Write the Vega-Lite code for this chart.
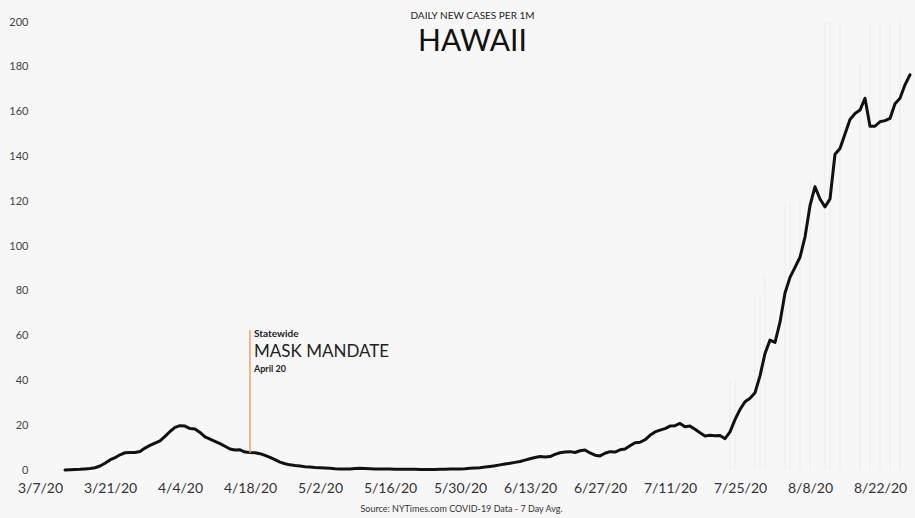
{
  "$schema": "https://vega.github.io/schema/vega-lite/v6.json",
  "width": 885,
  "height": 468,
  "autosize": "none",
  "padding": {"left": 30, "top": 10, "right": 0, "bottom": 40},
  "background": "#f7f7f7",
  "config": {"view": {"stroke": null}, "font": "Lato"},
  "title": {
    "text": "DAILY NEW CASES PER 1M",
    "subtitle": "HAWAII",
    "fontSize": 10,
    "fontWeight": "normal",
    "color": "#222222",
    "subtitleFontSize": 30,
    "subtitleColor": "#111111",
    "subtitleFont": "Lato",
    "subtitlePadding": 6,
    "anchor": "middle",
    "offset": -47
  },
  "datasets": {
    "hawaii": [
      {"date": "2020-03-12", "cases": 0.0}, {"date": "2020-03-13", "cases": 0.1}, {"date": "2020-03-14", "cases": 0.2},
      {"date": "2020-03-15", "cases": 0.3}, {"date": "2020-03-16", "cases": 0.5}, {"date": "2020-03-17", "cases": 0.7},
      {"date": "2020-03-18", "cases": 1.0}, {"date": "2020-03-19", "cases": 1.8}, {"date": "2020-03-20", "cases": 3.0},
      {"date": "2020-03-21", "cases": 4.5}, {"date": "2020-03-22", "cases": 5.5}, {"date": "2020-03-23", "cases": 6.8},
      {"date": "2020-03-24", "cases": 7.7}, {"date": "2020-03-25", "cases": 7.8}, {"date": "2020-03-26", "cases": 7.8},
      {"date": "2020-03-27", "cases": 8.3}, {"date": "2020-03-28", "cases": 9.8}, {"date": "2020-03-29", "cases": 11.0},
      {"date": "2020-03-30", "cases": 12.0}, {"date": "2020-03-31", "cases": 13.0},
      {"date": "2020-04-01", "cases": 15.0}, {"date": "2020-04-02", "cases": 17.2}, {"date": "2020-04-03", "cases": 19.0},
      {"date": "2020-04-04", "cases": 19.8}, {"date": "2020-04-05", "cases": 19.6}, {"date": "2020-04-06", "cases": 18.5},
      {"date": "2020-04-07", "cases": 18.3}, {"date": "2020-04-08", "cases": 16.8}, {"date": "2020-04-09", "cases": 14.8},
      {"date": "2020-04-10", "cases": 13.8}, {"date": "2020-04-11", "cases": 12.8}, {"date": "2020-04-12", "cases": 11.8},
      {"date": "2020-04-13", "cases": 10.6}, {"date": "2020-04-14", "cases": 9.4}, {"date": "2020-04-15", "cases": 8.9},
      {"date": "2020-04-16", "cases": 9.0}, {"date": "2020-04-17", "cases": 8.0}, {"date": "2020-04-18", "cases": 7.8},
      {"date": "2020-04-19", "cases": 7.7}, {"date": "2020-04-20", "cases": 7.3}, {"date": "2020-04-21", "cases": 6.5},
      {"date": "2020-04-22", "cases": 5.6}, {"date": "2020-04-23", "cases": 4.6}, {"date": "2020-04-24", "cases": 3.5},
      {"date": "2020-04-25", "cases": 2.8}, {"date": "2020-04-26", "cases": 2.3}, {"date": "2020-04-27", "cases": 2.0},
      {"date": "2020-04-28", "cases": 1.8}, {"date": "2020-04-29", "cases": 1.5}, {"date": "2020-04-30", "cases": 1.3},
      {"date": "2020-05-01", "cases": 1.1}, {"date": "2020-05-02", "cases": 1.0}, {"date": "2020-05-03", "cases": 0.9},
      {"date": "2020-05-04", "cases": 0.8}, {"date": "2020-05-05", "cases": 0.6}, {"date": "2020-05-06", "cases": 0.5},
      {"date": "2020-05-07", "cases": 0.4}, {"date": "2020-05-08", "cases": 0.5}, {"date": "2020-05-09", "cases": 0.7},
      {"date": "2020-05-10", "cases": 0.8}, {"date": "2020-05-11", "cases": 0.7}, {"date": "2020-05-12", "cases": 0.6},
      {"date": "2020-05-13", "cases": 0.5}, {"date": "2020-05-14", "cases": 0.5}, {"date": "2020-05-15", "cases": 0.4},
      {"date": "2020-05-16", "cases": 0.4}, {"date": "2020-05-17", "cases": 0.3}, {"date": "2020-05-18", "cases": 0.3},
      {"date": "2020-05-19", "cases": 0.3}, {"date": "2020-05-20", "cases": 0.3}, {"date": "2020-05-21", "cases": 0.3},
      {"date": "2020-05-22", "cases": 0.2}, {"date": "2020-05-23", "cases": 0.2}, {"date": "2020-05-24", "cases": 0.2},
      {"date": "2020-05-25", "cases": 0.2}, {"date": "2020-05-26", "cases": 0.3}, {"date": "2020-05-27", "cases": 0.3},
      {"date": "2020-05-28", "cases": 0.4}, {"date": "2020-05-29", "cases": 0.4}, {"date": "2020-05-30", "cases": 0.5},
      {"date": "2020-05-31", "cases": 0.6},
      {"date": "2020-06-01", "cases": 0.8}, {"date": "2020-06-02", "cases": 0.9}, {"date": "2020-06-03", "cases": 1.0},
      {"date": "2020-06-04", "cases": 1.3}, {"date": "2020-06-05", "cases": 1.6}, {"date": "2020-06-06", "cases": 1.9},
      {"date": "2020-06-07", "cases": 2.3}, {"date": "2020-06-08", "cases": 2.7}, {"date": "2020-06-09", "cases": 3.0},
      {"date": "2020-06-10", "cases": 3.4}, {"date": "2020-06-11", "cases": 3.8}, {"date": "2020-06-12", "cases": 4.4},
      {"date": "2020-06-13", "cases": 5.0}, {"date": "2020-06-14", "cases": 5.6}, {"date": "2020-06-15", "cases": 6.0},
      {"date": "2020-06-16", "cases": 5.8}, {"date": "2020-06-17", "cases": 6.0}, {"date": "2020-06-18", "cases": 7.0},
      {"date": "2020-06-19", "cases": 7.7}, {"date": "2020-06-20", "cases": 8.0}, {"date": "2020-06-21", "cases": 8.2},
      {"date": "2020-06-22", "cases": 7.8}, {"date": "2020-06-23", "cases": 8.6}, {"date": "2020-06-24", "cases": 8.9},
      {"date": "2020-06-25", "cases": 7.6}, {"date": "2020-06-26", "cases": 6.6}, {"date": "2020-06-27", "cases": 6.3},
      {"date": "2020-06-28", "cases": 7.5}, {"date": "2020-06-29", "cases": 8.2}, {"date": "2020-06-30", "cases": 8.0},
      {"date": "2020-07-01", "cases": 9.0}, {"date": "2020-07-02", "cases": 9.4}, {"date": "2020-07-03", "cases": 10.8},
      {"date": "2020-07-04", "cases": 12.2}, {"date": "2020-07-05", "cases": 12.4}, {"date": "2020-07-06", "cases": 13.5},
      {"date": "2020-07-07", "cases": 15.5}, {"date": "2020-07-08", "cases": 17.0}, {"date": "2020-07-09", "cases": 17.8},
      {"date": "2020-07-10", "cases": 18.5}, {"date": "2020-07-11", "cases": 19.6}, {"date": "2020-07-12", "cases": 19.8},
      {"date": "2020-07-13", "cases": 20.8}, {"date": "2020-07-14", "cases": 19.3}, {"date": "2020-07-15", "cases": 19.6},
      {"date": "2020-07-16", "cases": 18.2}, {"date": "2020-07-17", "cases": 16.6}, {"date": "2020-07-18", "cases": 15.2},
      {"date": "2020-07-19", "cases": 15.5}, {"date": "2020-07-20", "cases": 15.3}, {"date": "2020-07-21", "cases": 15.4},
      {"date": "2020-07-22", "cases": 14.0}, {"date": "2020-07-23", "cases": 17.0}, {"date": "2020-07-24", "cases": 22.5},
      {"date": "2020-07-25", "cases": 27.0}, {"date": "2020-07-26", "cases": 30.5}, {"date": "2020-07-27", "cases": 32.0},
      {"date": "2020-07-28", "cases": 34.5}, {"date": "2020-07-29", "cases": 42.0}, {"date": "2020-07-30", "cases": 52.0},
      {"date": "2020-07-31", "cases": 58.0},
      {"date": "2020-08-01", "cases": 57.0}, {"date": "2020-08-02", "cases": 66.0}, {"date": "2020-08-03", "cases": 79.0},
      {"date": "2020-08-04", "cases": 86.0}, {"date": "2020-08-05", "cases": 90.5}, {"date": "2020-08-06", "cases": 95.0},
      {"date": "2020-08-07", "cases": 104.0}, {"date": "2020-08-08", "cases": 118.0}, {"date": "2020-08-09", "cases": 126.5},
      {"date": "2020-08-10", "cases": 121.0}, {"date": "2020-08-11", "cases": 117.5}, {"date": "2020-08-12", "cases": 121.0},
      {"date": "2020-08-13", "cases": 141.0}, {"date": "2020-08-14", "cases": 143.6}, {"date": "2020-08-15", "cases": 150.0},
      {"date": "2020-08-16", "cases": 156.5}, {"date": "2020-08-17", "cases": 159.2}, {"date": "2020-08-18", "cases": 160.7},
      {"date": "2020-08-19", "cases": 166.0}, {"date": "2020-08-20", "cases": 153.5}, {"date": "2020-08-21", "cases": 153.5},
      {"date": "2020-08-22", "cases": 155.5}, {"date": "2020-08-23", "cases": 156.0}, {"date": "2020-08-24", "cases": 157.0},
      {"date": "2020-08-25", "cases": 163.5}, {"date": "2020-08-26", "cases": 166.0}, {"date": "2020-08-27", "cases": 172.0},
      {"date": "2020-08-28", "cases": 176.5}
    ],
    "faint": [
      {"date": "2020-07-23", "top": 40}, {"date": "2020-07-24", "top": 40}, {"date": "2020-07-28", "top": 78},
      {"date": "2020-07-29", "top": 78}, {"date": "2020-07-30", "top": 86}, {"date": "2020-08-03", "top": 120},
      {"date": "2020-08-04", "top": 120}, {"date": "2020-08-06", "top": 120}, {"date": "2020-08-08", "top": 130},
      {"date": "2020-08-11", "top": 200}, {"date": "2020-08-12", "top": 200}, {"date": "2020-08-14", "top": 200},
      {"date": "2020-08-18", "top": 182}, {"date": "2020-08-20", "top": 200}, {"date": "2020-08-22", "top": 200},
      {"date": "2020-08-24", "top": 200}, {"date": "2020-08-26", "top": 200}
    ]
  },
  "layer": [
    {
      "data": {"name": "faint"},
      "mark": {"type": "rule", "color": "#ebebeb", "strokeWidth": 1},
      "encoding": {
        "x": {"field": "date", "type": "temporal"},
        "y": {"field": "top", "type": "quantitative"},
        "y2": {"datum": 0}
      }
    },
    {
      "data": {"name": "hawaii"},
      "mark": {"type": "line", "color": "#111111", "strokeWidth": 3, "strokeJoin": "round", "strokeCap": "round"},
      "encoding": {
        "x": {
          "field": "date",
          "type": "temporal",
          "scale": {
            "type": "utc",
            "domain": [{"year": 2020, "month": 3, "date": 5, "utc": true}, {"year": 2020, "month": 8, "date": 29, "utc": true}],
            "nice": false
          },
          "axis": {
            "values": [
              {"year": 2020, "month": 3, "date": 7, "utc": true},
              {"year": 2020, "month": 3, "date": 21, "utc": true},
              {"year": 2020, "month": 4, "date": 4, "utc": true},
              {"year": 2020, "month": 4, "date": 18, "utc": true},
              {"year": 2020, "month": 5, "date": 2, "utc": true},
              {"year": 2020, "month": 5, "date": 16, "utc": true},
              {"year": 2020, "month": 5, "date": 30, "utc": true},
              {"year": 2020, "month": 6, "date": 13, "utc": true},
              {"year": 2020, "month": 6, "date": 27, "utc": true},
              {"year": 2020, "month": 7, "date": 11, "utc": true},
              {"year": 2020, "month": 7, "date": 25, "utc": true},
              {"year": 2020, "month": 8, "date": 8, "utc": true},
              {"year": 2020, "month": 8, "date": 22, "utc": true}
            ],
            "labelExpr": "utcFormat(datum.value, '%-m/%-d/%y')",
            "domain": false,
            "ticks": false,
            "grid": false,
            "labelFontSize": 14,
            "labelColor": "#333333",
            "labelPadding": 3,
            "labelFlush": false,
            "title": "Source: NYTimes.com COVID-19 Data - 7 Day Avg.",
            "titleFontSize": 9,
            "titleFontWeight": "normal",
            "titleColor": "#333333",
            "titleX": 431,
            "titleY": 30,
            "titleBaseline": "middle"
          }
        },
        "y": {
          "field": "cases",
          "type": "quantitative",
          "scale": {"domain": [-3.57, 205.4], "nice": false, "zero": false},
          "axis": {
            "values": [0, 20, 40, 60, 80, 100, 120, 140, 160, 180, 200],
            "domain": false,
            "ticks": false,
            "grid": false,
            "labelFontSize": 11,
            "labelColor": "#444444",
            "labelPadding": 2,
            "title": null
          }
        }
      }
    },
    {
      "data": {"values": [{}]},
      "mark": {"type": "rule", "color": "#f2a05e", "strokeWidth": 1.5},
      "encoding": {
        "x": {"datum": {"year": 2020, "month": 4, "date": 18, "utc": true}, "type": "temporal"},
        "y": {"datum": 7.7, "type": "quantitative"},
        "y2": {"datum": 62.5}
      }
    },
    {
      "data": {"values": [{}]},
      "mark": {"type": "text", "text": "Statewide", "align": "left", "baseline": "middle", "dx": 4, "fontSize": 10, "fontWeight": "bold", "color": "#222222"},
      "encoding": {
        "x": {"datum": {"year": 2020, "month": 4, "date": 18, "utc": true}, "type": "temporal"},
        "y": {"datum": 60.9, "type": "quantitative"}
      }
    },
    {
      "data": {"values": [{}]},
      "mark": {"type": "text", "text": "MASK MANDATE", "align": "left", "baseline": "middle", "dx": 4, "fontSize": 17, "color": "#222222"},
      "encoding": {
        "x": {"datum": {"year": 2020, "month": 4, "date": 18, "utc": true}, "type": "temporal"},
        "y": {"datum": 52.9, "type": "quantitative"}
      }
    },
    {
      "data": {"values": [{}]},
      "mark": {"type": "text", "text": "April 20", "align": "left", "baseline": "middle", "dx": 4, "fontSize": 9, "fontWeight": "bold", "color": "#222222"},
      "encoding": {
        "x": {"datum": {"year": 2020, "month": 4, "date": 18, "utc": true}, "type": "temporal"},
        "y": {"datum": 45.3, "type": "quantitative"}
      }
    }
  ]
}
